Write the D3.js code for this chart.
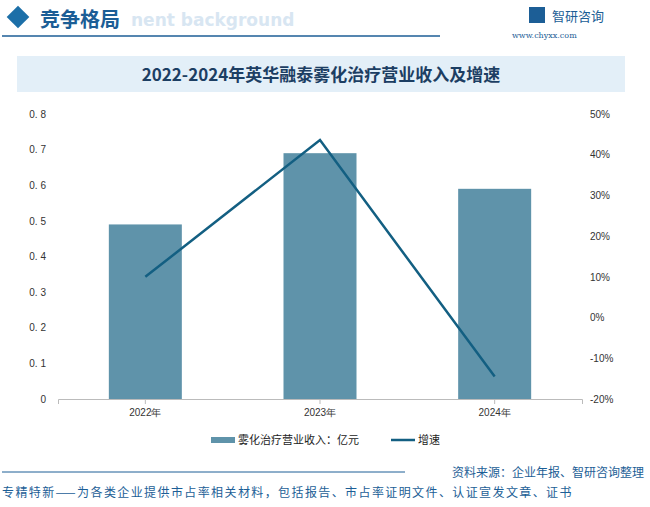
<!DOCTYPE html>
<html><head><meta charset="utf-8">
<script src="https://cdn.jsdelivr.net/npm/d3@7"></script>
<style>body{margin:0;background:#fff;font-family:"Noto Sans CJK SC","Noto Sans",sans-serif;}</style>
</head><body><div id="chart"></div>
<script>
var years = ["2022年", "2023年", "2024年"];
var revenue = [0.49, 0.69, 0.59];
var growth = [10.0, 43.6, -14.5];
var leftTicks = [0, 0.1, 0.2, 0.3, 0.4, 0.5, 0.6, 0.7, 0.8];
var rightTicks = [-20, -10, 0, 10, 20, 30, 40, 50];

var W = 650, H = 507;
var svg = d3.select("#chart").append("svg").attr("width", W).attr("height", H);

// header
svg.append("rect").attr("x", 10).attr("y", 9).attr("width", 16).attr("height", 16)
  .attr("transform", "rotate(45,18,17)").attr("fill", "#1c6fa8");
svg.append("text").attr("x", 131).attr("y", 26).attr("font-size", 17).attr("fill", "#d8e6f2")
  .attr("font-weight", "bold").attr("font-family", "DejaVu Sans").text("nent background");
svg.append("text").attr("x", 40).attr("y", 27).attr("font-size", 20).attr("fill", "#1c5e96")
  .attr("font-weight", "bold").text("竞争格局");
svg.append("line").attr("x1", 2).attr("x2", 440).attr("y1", 36).attr("y2", 36).attr("stroke", "#1c5e96").attr("stroke-width", 1.5);
svg.append("text").attr("x", 552).attr("y", 21).attr("font-size", 13).attr("fill", "#1c5e96").text("智研咨询");
svg.append("rect").attr("x", 529).attr("y", 7).attr("width", 16).attr("height", 16).attr("fill", "#1c5e96");
svg.append("text").attr("x", 512).attr("y", 38).attr("font-size", 8).attr("fill", "#1c5e96")
  .attr("font-family", "DejaVu Serif").text("www.chyxx.com");

// title band
svg.append("rect").attr("x", 17).attr("y", 56).attr("width", 608).attr("height", 36).attr("fill", "#e3eff8");
svg.append("text").attr("x", 321).attr("y", 81).attr("text-anchor", "middle").attr("font-size", 17)
  .attr("font-weight", "bold").attr("fill", "#1c3e63").attr("font-family", "Noto Sans CJK SC")
  .text("2022-2024年英华融泰雾化治疗营业收入及增速");

var plotLeft = 58, plotRight = 582, plotTop = 114, plotBottom = 399;
var x = d3.scaleBand().domain(years).range([plotLeft, plotRight]);
var y = d3.scaleLinear().domain([0, 0.8]).range([plotBottom, plotTop]);
var y2 = d3.scaleLinear().domain([-20, 50]).range([plotBottom, plotTop]);

svg.append("g").attr("transform", "translate(" + plotLeft + ",0)")
  .call(d3.axisLeft(y).tickValues(leftTicks).tickSize(0).tickPadding(12).tickFormat(function(d){ return d === 0 ? "0" : d3.format(".1f")(d).replace(".", ". "); }))
  .call(function(g){ g.select(".domain").remove(); })
  .selectAll("text").attr("font-size", 10).attr("fill", "#333");
svg.append("g").attr("transform", "translate(" + plotRight + ",0)")
  .call(d3.axisRight(y2).tickValues(rightTicks).tickSize(0).tickPadding(8).tickFormat(function(d){ return d + "%"; }))
  .call(function(g){ g.select(".domain").remove(); })
  .selectAll("text").attr("font-size", 10).attr("fill", "#333");
var xa = svg.append("g").attr("transform", "translate(0," + plotBottom + ")")
  .call(d3.axisBottom(x).tickSize(5).tickPadding(5));
xa.select(".domain").attr("stroke", "#bbb");
xa.selectAll("line").attr("stroke", "#bbb");
xa.selectAll("text").attr("font-size", 10).attr("fill", "#333");

var bw = 73;
svg.selectAll(".bar").data(revenue).enter().append("rect")
  .attr("x", function(d, i){ return x(years[i]) + x.bandwidth() / 2 - bw / 2; })
  .attr("y", function(d){ return y(d); })
  .attr("width", bw).attr("height", function(d){ return plotBottom - y(d); })
  .attr("fill", "#5f93aa");

svg.append("path").datum(growth)
  .attr("d", d3.line().x(function(d, i){ return x(years[i]) + x.bandwidth() / 2; }).y(function(d){ return y2(d); }))
  .attr("fill", "none").attr("stroke", "#135f82").attr("stroke-width", 2.5);

// legend
svg.append("rect").attr("x", 211).attr("y", 437).attr("width", 24).attr("height", 6).attr("fill", "#5f93aa");
svg.append("text").attr("x", 238).attr("y", 444).attr("font-size", 11).attr("fill", "#222").text("雾化治疗营业收入：亿元");
svg.append("line").attr("x1", 391).attr("x2", 415).attr("y1", 440).attr("y2", 440).attr("stroke", "#135f82").attr("stroke-width", 2.5);
svg.append("text").attr("x", 418).attr("y", 444).attr("font-size", 11).attr("fill", "#222").text("增速");

// footer
svg.append("line").attr("x1", 2).attr("x2", 405).attr("y1", 472).attr("y2", 472).attr("stroke", "#1c5e96").attr("stroke-width", 1);
svg.append("text").attr("x", 644).attr("y", 477).attr("text-anchor", "end").attr("font-size", 12).attr("fill", "#1c5e96").text("资料来源：企业年报、智研咨询整理");
svg.append("text").attr("x", 2).attr("y", 497).attr("font-size", 12).attr("letter-spacing", 1.4).attr("fill", "#1c5e96").text("专精特新——为各类企业提供市占率相关材料，包括报告、市占率证明文件、认证宣发文章、证书");
</script></body></html>
